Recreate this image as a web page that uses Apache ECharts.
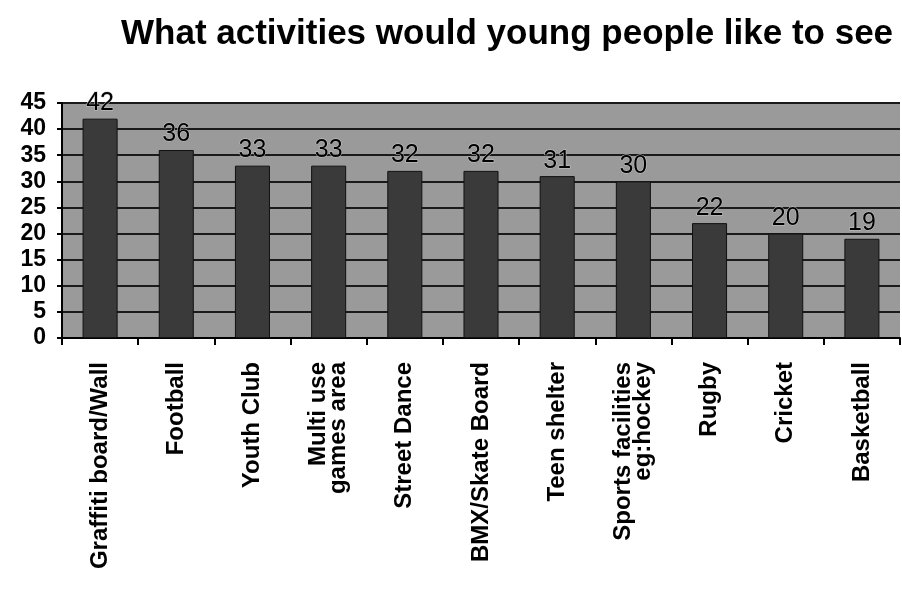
<!DOCTYPE html>
<html>
<head>
<meta charset="utf-8">
<script src="https://cdn.jsdelivr.net/npm/echarts@6/dist/echarts.min.js"></script>
<style>
  html, body { margin: 0; padding: 0; background: #fff; }
  #chart { width: 902px; height: 596px; }
</style>
</head>
<body>
<div id="chart"></div>
<script>
// activities young people would like to see
const activities = [
  "Graffiti board/Wall",
  "Football",
  "Youth Club",
  "Multi use\ngames area",
  "Street Dance",
  "BMX/Skate Board",
  "Teen shelter",
  "Sports facilities\neg:hockey",
  "Rugby",
  "Cricket",
  "Basketball",
];
const votes = [42, 36, 33, 33, 32, 32, 31, 30, 22, 20, 19];

const chart = echarts.init(document.getElementById("chart"));

chart.setOption({
  animation: false,
  title: {
    text: "What activities would young people like to see",
    left: 116,
    top: 12,
    textStyle: {
      fontFamily: "Liberation Sans",
      fontSize: 35,
      fontWeight: "bold",
      color: "#000",
    },
  },
  grid: {
    left: 62,
    right: 2,
    top: 103,
    bottom: 258,
    show: true,
    backgroundColor: "#9a9a9a",
    borderWidth: 0,
  },
  xAxis: {
    type: "category",
    data: activities,
    axisLine: { lineStyle: { color: "#000", width: 2 } },
    axisTick: { show: true, length: 7, lineStyle: { color: "#000", width: 2 } },
    axisLabel: {
      rotate: 90,
      interval: 0,
      margin: 24,
      color: "#000",
      fontFamily: "Liberation Sans",
      fontSize: 24,
      fontWeight: "bold",
      lineHeight: 20,
    },
  },
  yAxis: {
    type: "value",
    min: 0,
    max: 45,
    interval: 5,
    axisLine: { show: true, lineStyle: { color: "#000", width: 2 } },
    axisTick: { show: true, length: 5, lineStyle: { color: "#000", width: 2 } },
    axisLabel: {
      margin: 16,
      color: "#000",
      fontFamily: "Liberation Sans",
      fontSize: 23,
      fontWeight: "bold",
    },
    splitLine: { show: true, lineStyle: { color: "#1a1a1a", width: 2 } },
  },
  series: [
    {
      type: "bar",
      data: votes,
      barWidth: "46%",
      itemStyle: {
        color: "#3a3a3a",
        borderColor: "#111",
        borderWidth: 1,
      },
      label: {
        show: true,
        position: "top",
        distance: 3,
        color: "#000",
        fontFamily: "Liberation Sans",
        fontSize: 25,
        textBorderColor: "#c8c8c8",
        textBorderWidth: 1,
      },
    },
  ],
});
</script>
</body>
</html>
